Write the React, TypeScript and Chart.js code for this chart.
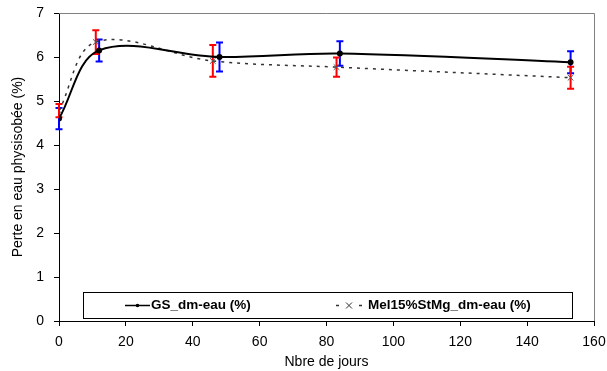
import React, { useEffect, useRef } from "react";
import { Chart, registerables } from "chart.js";

Chart.register(...registerables);

const gsDays = [0, 12, 48, 84, 153];
const gsValues = [4.6, 6.15, 6.0, 6.08, 5.88];
const gsErrors = [0.24, 0.25, 0.33, 0.28, 0.25];

const melDays = [0, 11, 46, 83, 153];
const melValues = [4.78, 6.34, 5.91, 5.77, 5.53];
const melErrors = [0.15, 0.27, 0.36, 0.22, 0.25];

const gsLabel = "GS_dm-eau (%)";
const melLabel = "Mel15%StMg_dm-eau (%)";
const xTitle = "Nbre de jours";
const yTitle = "Perte en eau physisobée (%)";

const FONT = "'Liberation Sans', Arial, sans-serif";

const errorBarPlugin = {
  id: "errorBars",
  beforeDatasetsDraw(chart: any) {
    const ctx = chart.ctx;
    const xs = chart.scales.x;
    const ys = chart.scales.y;
    const draw = (days: number[], vals: number[], errs: number[], color: string) => {
      ctx.save();
      ctx.strokeStyle = color;
      ctx.lineWidth = 2;
      for (let i = 0; i < days.length; i++) {
        const px = xs.getPixelForValue(days[i]);
        const top = ys.getPixelForValue(vals[i] + errs[i]);
        const bot = ys.getPixelForValue(vals[i] - errs[i]);
        ctx.beginPath();
        ctx.moveTo(px, top);
        ctx.lineTo(px, bot);
        ctx.moveTo(px - 3.5, top);
        ctx.lineTo(px + 3.5, top);
        ctx.moveTo(px - 3.5, bot);
        ctx.lineTo(px + 3.5, bot);
        ctx.stroke();
      }
      ctx.restore();
    };
    draw(gsDays, gsValues, gsErrors, "#0000ff");
    draw(melDays, melValues, melErrors, "#ff0000");
  },
  afterDraw(chart: any) {
    const ctx = chart.ctx;
    const a = chart.chartArea;
    ctx.save();
    ctx.strokeStyle = "#808080";
    ctx.lineWidth = 1;
    ctx.beginPath();
    ctx.moveTo(a.left, a.top + 0.5);
    ctx.lineTo(a.right + 0.5, a.top + 0.5);
    ctx.lineTo(a.right + 0.5, a.bottom);
    ctx.stroke();
    const lx = 83, ly = 292, lw = 489, lh = 26;
    ctx.fillStyle = "#ffffff";
    ctx.fillRect(lx, ly, lw, lh);
    ctx.strokeStyle = "#000000";
    ctx.strokeRect(lx + 0.5, ly + 0.5, lw, lh);
    const cy = ly + lh / 2 + 0.5;
    ctx.strokeStyle = "#000000";
    ctx.lineWidth = 1.5;
    ctx.beginPath();
    ctx.moveTo(125, cy);
    ctx.lineTo(150, cy);
    ctx.stroke();
    ctx.fillStyle = "#000000";
    ctx.beginPath();
    ctx.arc(137.5, cy, 1.8, 0, Math.PI * 2);
    ctx.fill();
    ctx.font = "bold 13.5px " + FONT;
    ctx.textBaseline = "middle";
    ctx.textAlign = "left";
    ctx.fillText(gsLabel, 151, cy);
    ctx.strokeStyle = "#333333";
    ctx.lineWidth = 1.5;
    ctx.beginPath();
    ctx.moveTo(336, cy);
    ctx.lineTo(339, cy);
    ctx.moveTo(359, cy);
    ctx.lineTo(362, cy);
    ctx.stroke();
    ctx.lineWidth = 1;
    ctx.beginPath();
    ctx.moveTo(346, cy - 3);
    ctx.lineTo(352, cy + 3);
    ctx.moveTo(352, cy - 3);
    ctx.lineTo(346, cy + 3);
    ctx.stroke();
    ctx.fillStyle = "#000000";
    ctx.fillText(melLabel, 368, cy);
    ctx.restore();
  },
};

export default function App() {
  const ref = useRef<HTMLCanvasElement | null>(null);
  useEffect(() => {
    if (!ref.current) return;
    const chart = new Chart(ref.current, {
      type: "line",
      data: {
        datasets: [
          {
            label: gsLabel,
            data: gsDays.map((d, i) => ({ x: d, y: gsValues[i] })),
            borderColor: "#000000",
            backgroundColor: "#000000",
            borderWidth: 2,
            pointRadius: 2,
            pointStyle: "circle",
            tension: 0.35,
            fill: false,
          },
          {
            label: melLabel,
            data: melDays.map((d, i) => ({ x: d, y: melValues[i] })),
            borderColor: "#333333",
            backgroundColor: "#333333",
            borderWidth: 1.5,
            borderDash: [3, 5],
            pointRadius: 4,
            pointStyle: "crossRot",
            pointBorderWidth: 1,
            pointBorderColor: "#555555",
            tension: 0.35,
            fill: false,
          },
        ],
      },
      options: {
        responsive: false,
        animation: false,
        layout: { padding: { top: 13, right: 13, left: 0, bottom: 0 } },
        plugins: {
          legend: { display: false },
          tooltip: { enabled: false },
        },
        scales: {
          x: {
            type: "linear",
            min: 0,
            max: 160,
            ticks: { stepSize: 20, color: "#000", font: { family: FONT, size: 14 }, padding: 8 },
            grid: { display: true, drawOnChartArea: false, drawTicks: true, tickLength: 5, color: "#000" },
            border: { display: true, color: "#000", width: 1 },
            title: { display: true, text: xTitle, color: "#000", font: { family: FONT, size: 14 }, padding: { top: 0, bottom: 0 } },
            afterFit: (s: any) => { s.height = 50; s.paddingLeft = 0; s.paddingRight = 0; },
          },
          y: {
            min: 0,
            max: 7,
            ticks: { stepSize: 1, color: "#000", font: { family: FONT, size: 14 }, padding: 10 },
            grid: { display: true, drawOnChartArea: false, drawTicks: true, tickLength: 5, color: "#000" },
            border: { display: true, color: "#000", width: 1 },
            title: { display: true, text: yTitle, color: "#000", font: { family: FONT, size: 14 }, padding: { top: 10, bottom: 0 } },
            afterFit: (s: any) => { s.width = 59; s.paddingTop = 0; s.paddingBottom = 0; },
          },
        },
      },
      plugins: [errorBarPlugin],
    } as any);
    return () => chart.destroy();
  }, []);
  return (
    <div style={{ position: "fixed", left: 0, top: 0, width: 607, height: 371, background: "#fff" }}>
      <canvas ref={ref} width={607} height={371} style={{ display: "block" }} />
    </div>
  );
}
